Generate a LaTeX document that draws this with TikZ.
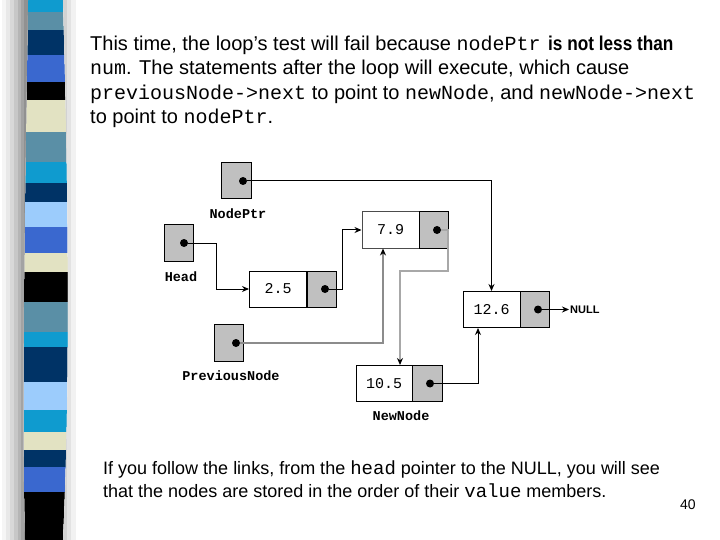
\documentclass[tikz,border=0pt]{standalone}
\usepackage{fontspec}
\setmainfont{Liberation Sans}
\setmonofont{Liberation Mono}
\usetikzlibrary{arrows.meta}
\definecolor{scyan}{HTML}{0F9BCF}
\definecolor{ssteel}{HTML}{5A8FA6}
\definecolor{snavy}{HTML}{003366}
\definecolor{sroyal}{HTML}{3A68CF}
\definecolor{scream}{HTML}{E2E2C2}
\definecolor{slight}{HTML}{9CCCFC}
\definecolor{boxgray}{HTML}{C0C0C0}
\definecolor{linegray}{HTML}{8C8C8C}
\definecolor{lightline}{HTML}{A8A8A8}
\definecolor{shadowgray}{HTML}{7F7F7F}
\tikzset{
  valbox/.style={draw=black, fill=white, line width=1pt, minimum width=57pt, minimum height=36pt, inner sep=0pt, font=\fontsize{15}{15}\selectfont\ttfamily},
  ptrbox/.style={draw=black, fill=boxgray, line width=1pt, minimum width=29pt, minimum height=36pt, inner sep=0pt},
  dotnode/.style={circle, fill=black, inner sep=0pt, minimum size=8pt},
  lbl/.style={font=\fontsize{13.5}{14}\selectfont\ttfamily\bfseries, inner sep=0pt},
  arr/.style={draw=black, line width=1pt, -{Stealth[length=7pt,width=6pt]}},
  garr/.style={draw=linegray, line width=1.1pt, -{Stealth[length=7pt,width=6pt,color=black]}},
  larr/.style={draw=lightline, line width=1.2pt, -{Stealth[length=7pt,width=6pt,color=black]}},
  txt/.style={anchor=base west, inner sep=0pt, font=\fontsize{20}{24}\selectfont},
  btxt/.style={anchor=base west, inner sep=0pt, font=\fontsize{18}{22}\selectfont}
}
\begin{document}
\begin{tikzpicture}[x=1pt,y=-1pt]
\useasboundingbox (0,0) rectangle (720,540);
\fill[white] (0,0) rectangle (720,540);
% stripe bar
\begin{scope}
\clip (28,0) .. controls (25,180) and (21,420) .. (25,540) -- (63,540) .. controls (70,400) and (69,200) .. (63,0) -- cycle;
\fill[scyan]  (0,0)   rectangle (80,12);
\fill[ssteel] (0,12)  rectangle (80,30);
\fill[snavy]  (0,30)  rectangle (80,55);
\fill[sroyal] (0,55)  rectangle (80,82);
\fill[black]  (0,82)  rectangle (80,100);
\fill[scream] (0,100) rectangle (80,132);
\fill[ssteel] (0,132) rectangle (80,162);
\fill[scyan]  (0,162) rectangle (80,183);
\fill[snavy]  (0,183) rectangle (80,202);
\fill[slight] (0,202) rectangle (80,227);
\fill[sroyal] (0,227) rectangle (80,253);
\fill[scream] (0,253) rectangle (80,272);
\fill[black]  (0,272) rectangle (80,302);
\fill[ssteel] (0,302) rectangle (80,332);
\fill[scyan]  (0,332) rectangle (80,347);
\fill[snavy]  (0,347) rectangle (80,382);
\fill[slight] (0,382) rectangle (80,410);
\fill[scyan]  (0,410) rectangle (80,432);
\fill[scream] (0,432) rectangle (80,450);
\fill[snavy]  (0,450) rectangle (80,467);
\fill[sroyal] (0,467) rectangle (80,492);
\fill[black]  (0,492) rectangle (80,540);
\end{scope}
% shadow left of the bar, drawn after it
\begin{scope}
\clip (0,0) -- (28,0) .. controls (25,180) and (21,420) .. (25,540) -- (0,540) -- cycle;
\fill[shadowgray!8]  (2,0)  rectangle (30,540);
\fill[shadowgray!18] (6,0)  rectangle (30,540);
\fill[shadowgray!30] (10,0) rectangle (30,540);
\fill[shadowgray!44] (14,0) rectangle (30,540);
\fill[shadowgray!58] (18,0) rectangle (30,540);
\fill[shadowgray!72] (21,0) rectangle (30,540);
\fill[shadowgray!86] (24,0) rectangle (30,540);
\end{scope}
\begin{scope}
\clip (63,0) .. controls (69,200) and (70,400) .. (63,540) -- (80,540) -- (80,0) -- cycle;
\fill[shadowgray!10] (62,0) rectangle (76,540);
\fill[shadowgray!22] (62,0) rectangle (71,540);
\fill[shadowgray!35] (62,0) rectangle (67,540);
\end{scope}
% header text
\node[txt] (h1) at (90,51) {This time, the loop's test will fail because \texttt{nodePtr}};
\node[txt] (h1b) at (548,51) {\scalebox{0.86}[1]{\textbf{is not less than}}};
\node[txt] (h2) at (90,75) {\texttt{num}. The statements after the loop will execute, which cause};
\node[txt] (h3) at (90,100) {\texttt{previousNode->next} to point to \texttt{newNode}, and \texttt{newNode->next}};
\node[txt] (h4) at (90,124) {to point to \texttt{nodePtr}.};
% pointer variables
\node[ptrbox, minimum width=30pt] (np) at (236,181) {};
\node[lbl] (lnp) at (238,214) {NodePtr};
\node[ptrbox] (hd) at (178.5,243) {};
\node[lbl] (lhd) at (181,277) {Head};
\node[ptrbox, minimum height=37pt] (pn) at (229,343) {};
\node[lbl] (lpn) at (231,376) {PreviousNode};
% list nodes
\node[valbox] (v25) at (278,289) {2.5};
\node[ptrbox] (p25) at (321.5,289) {};
\node[valbox, draw=black!70] (v79) at (390.5,230) {7.9};
\node[ptrbox] (p79) at (433.5,230) {};
\node[valbox] (v126) at (491.5,309.5) {12.6};
\node[ptrbox] (p126) at (534.5,309.5) {};
\node[valbox, minimum width=56pt] (v105) at (384,383.5) {10.5};
\node[ptrbox, minimum width=30pt] (p105) at (427,383.5) {};
\node[lbl] (lnn) at (401,416) {NewNode};
\node[anchor=west, inner sep=0pt, font=\fontsize{11}{12}\selectfont\bfseries] (null) at (570,309.5) {NULL};
% dots
\node[dotnode] (dnp) at (243,181) {};
\node[dotnode] (dhd) at (184,243) {};
\node[dotnode] (dpn) at (236,343) {};
\node[dotnode] (d25) at (325,289) {};
\node[dotnode] (d79) at (437,230) {};
\node[dotnode] (d126) at (538,309.5) {};
\node[dotnode] (d105) at (430,383.5) {};
% connectors
\draw[arr] (dnp) -| (v126.north);
\draw[arr] (dhd) -| ([xshift=-33pt]v25.west) -- (v25.west);
\draw[arr] (d25) -| ([xshift=-19pt]v79.west) -- (v79.west);
\draw[larr] (d79) -- ++(11,0) -- ++(0,41) -| ([xshift=16pt]v105.north);
\draw[garr] (dpn) -| ([xshift=-7.5pt]v79.south);
\draw[arr] (d105) -| ([xshift=-13.5pt]v126.south);
\draw[arr] (d126) -- ([xshift=-1pt]null.west);
% bottom text
\node[btxt] (b1) at (103,474) {If you follow the links, from the {\fontsize{19}{22}\selectfont\texttt{head}} pointer to the NULL, you will see};
\node[btxt] (b2) at (103,497) {that the nodes are stored in the order of their {\fontsize{19}{22}\selectfont\texttt{value}} members.};
\node[anchor=base west, inner sep=0pt, font=\fontsize{14}{16}\selectfont] (pg) at (680,509) {40};
\end{tikzpicture}
\end{document}
